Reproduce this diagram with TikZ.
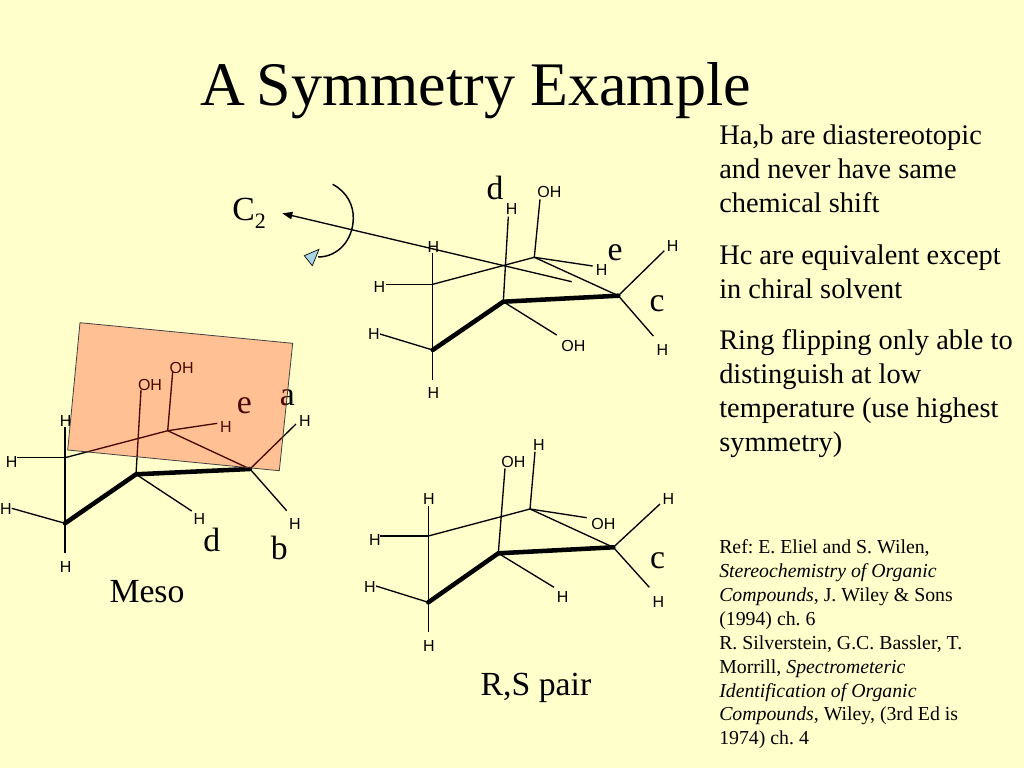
\documentclass[tikz,border=0pt]{standalone}
\usepackage{fontspec}
\setmainfont{Liberation Serif}
\newfontfamily\chemfont{Liberation Sans}
\usetikzlibrary{arrows.meta}
\definecolor{slidebg}{HTML}{FFFFCC}
\definecolor{planefill}{HTML}{FF1E00}
\definecolor{rotfill}{HTML}{A9D6E5}
\tikzset{
  atomlabel/.style={font=\chemfont\fontsize{12}{13}\selectfont,inner sep=0pt,text=black},
  bigletter/.style={font=\fontsize{25.3}{28}\selectfont,inner sep=0pt},
  bodyline/.style={font=\fontsize{21.3}{24}\selectfont\frenchspacing,anchor=base west,inner sep=0pt},
  refline/.style={font=\fontsize{14.85}{17}\selectfont\frenchspacing,anchor=base west,inner sep=0pt},
  bond/.style={line width=1pt,black},
  wedge/.style={line width=3.4pt,black,line cap=round},
}
\begin{document}
\begin{tikzpicture}[x=0.75pt,y=-0.75pt]
\useasboundingbox (0,0) rectangle (1024,768);
\fill[slidebg] (0,0) rectangle (1024,768);
\node[font=\fontsize{46.5}{50}\selectfont,inner sep=0pt,anchor=base] (title) at (475.5,105) {A\kern-0.06em\ Symmetry Example};

% Top molecule
\coordinate (ta) at (432.7,350);
\coordinate (tb) at (503.3,301.7);
\coordinate (tc) at (618.3,295.7);
\coordinate (td) at (534.3,257.3);
\coordinate (tf) at (432.7,284.3);
\coordinate (t1) at (508.3,216.7);
\coordinate (t2) at (540,199.3);
\coordinate (t3) at (592.7,266);
\coordinate (t4) at (664.3,250.7);
\coordinate (t5) at (653.3,336);
\coordinate (t6) at (556.7,335);
\coordinate (t7) at (380,334);
\coordinate (t8) at (432.7,380);
\coordinate (t9) at (432.7,253);
\coordinate (t10) at (385.7,284.3);
\draw[bond] (ta) -- (t9);
\draw[bond] (ta) -- (t8);
\draw[bond] (ta) -- (t7);
\draw[bond] (tf) -- (t10);
\draw[bond] (tf) -- (td);
\draw[bond] (td) -- (tc);
\draw[bond] (td) -- (t2);
\draw[bond] (td) -- (t3);
\draw[bond] (tb) -- (t1);
\draw[bond] (tb) -- (t6);
\draw[bond] (tc) -- (t4);
\draw[bond] (tc) -- (t5);
\draw[wedge] (ta) -- (tb) -- (tc);
\node[atomlabel] (th1) at (433.3,247.3) {H};
\node[atomlabel] (th2) at (379.3,287.3) {H};
\node[atomlabel] (th3) at (374,334) {H};
\node[atomlabel] (th4) at (433.3,393.3) {H};
\node[atomlabel] (to1) at (573.3,345.5) {OH};
\node[atomlabel] (th5) at (662.3,350) {H};
\node[atomlabel] (th6) at (672.7,246) {H};
\node[atomlabel] (th7) at (601.7,270) {H};
\node[atomlabel] (to2) at (549.3,192) {OH};
\node[atomlabel] (th8) at (511.7,209) {H};
\node[bigletter] (ld1) at (495,188) {d};
\node[bigletter] (le1) at (615,253) {e};
\node[bigletter] (lc1) at (657,304) {c};

% Rotation axis
\coordinate (axs) at (571.7,281.7);
\coordinate (axe) at (282.3,213.3);
\draw[bond,-{Triangle[length=7.5pt,width=5.5pt]}] (axs) -- (axe);
\coordinate (ar1) at (332.7,184.3);
\coordinate (ar2) at (353.3,218.3);
\coordinate (ar3) at (318,257);
\draw[line width=1.1pt] (ar1) .. controls (347,192) and (353.5,205) .. (ar2)
  .. controls (353,240) and (338,257) .. (ar3);
\coordinate (ah1) at (304.3,255.7);
\coordinate (ah2) at (319,249.3);
\coordinate (ah3) at (312.3,265.7);
\draw[fill=rotfill,line width=0.5pt] (ah1) -- (ah2) -- (ah3) -- cycle;
\node[font=\fontsize{25.3}{28}\selectfont,inner sep=0pt,anchor=base west] (c2) at (232,220) {C\raisebox{-0.25em}{\fontsize{16.5}{18}\selectfont 2}};

% Meso molecule
\coordinate (ma) at (65,523.3);
\coordinate (mb) at (136,474.3);
\coordinate (mc) at (250,469);
\coordinate (md) at (167.7,430.7);
\coordinate (mf) at (65,457.7);
\coordinate (m1) at (141,390);
\coordinate (m2) at (172.7,371.7);
\coordinate (m3) at (217.3,423.3);
\coordinate (m4) at (296,424);
\coordinate (m5) at (286.7,510.7);
\coordinate (m6) at (191.7,511);
\coordinate (m7) at (11.7,508.3);
\coordinate (m8) at (65,553.3);
\coordinate (m9) at (65,426.7);
\coordinate (m10) at (17.3,457.7);
\draw[bond] (ma) -- (m9);
\draw[bond] (ma) -- (m8);
\draw[bond] (ma) -- (m7);
\draw[bond] (mf) -- (m10);
\draw[bond] (mf) -- (md);
\draw[bond] (md) -- (mc);
\draw[bond] (md) -- (m2);
\draw[bond] (md) -- (m3);
\draw[bond] (mb) -- (m1);
\draw[bond] (mb) -- (m6);
\draw[bond] (mc) -- (m4);
\draw[bond] (mc) -- (m5);
\draw[wedge] (ma) -- (mb) -- (mc);
\node[atomlabel] (mo1) at (150,384.5) {OH};
\node[atomlabel] (mo2) at (181.7,367.5) {OH};
\node[atomlabel] (mh1) at (226,427) {H};
\node[atomlabel] (mh2) at (305,421) {H};
\node[atomlabel] (mh3) at (295,523.5) {H};
\node[atomlabel] (mh4) at (199.3,519) {H};
\node[atomlabel] (mh5) at (65.7,567.3) {H};
\node[atomlabel] (mh6) at (6,509.3) {H};
\node[atomlabel] (mh7) at (11.7,462.3) {H};
\node[atomlabel] (mh8) at (65.7,421) {H};
\node[bigletter] (ld2) at (211.7,540.3) {d};
\node[bigletter] (lb2) at (279.3,548.3) {b};
\node[bigletter] (le2) at (244.3,406) {e};
\node[bigletter] (la2) at (287.3,398) {a};
\node[bigletter] (meso) at (147,592) {Meso};
% Mirror plane
\coordinate (p1) at (80,322.7);
\coordinate (p2) at (292.7,343.3);
\coordinate (p3) at (279.3,470.7);
\coordinate (p4) at (67.7,450);
\fill[planefill,fill opacity=0.28] (p1) -- (p2) -- (p3) -- (p4) -- cycle;
\draw[line width=0.6pt,black!75] (p1) -- (p2) -- (p3) -- (p4) -- cycle;

% R,S pair
\coordinate (ra) at (428.3,602.3);
\coordinate (rb) at (498.3,553.3);
\coordinate (rc) at (613.3,547.3);
\coordinate (rd) at (530,509);
\coordinate (rf) at (428.3,536);
\coordinate (r1) at (505,468.3);
\coordinate (r2) at (535,451.7);
\coordinate (r3) at (586.7,517.7);
\coordinate (r4) at (660,504);
\coordinate (r5) at (649.3,587.3);
\coordinate (r6) at (554,587.3);
\coordinate (r7) at (376,586);
\coordinate (r8) at (428.3,631.7);
\coordinate (r9) at (428.3,506);
\coordinate (r10) at (380,536);
\draw[bond] (ra) -- (r9);
\draw[bond] (ra) -- (r8);
\draw[bond] (ra) -- (r7);
\draw[bond] (rf) -- (r10);
\draw[bond] (rf) -- (rd);
\draw[bond] (rd) -- (rc);
\draw[bond] (rd) -- (r2);
\draw[bond] (rd) -- (r3);
\draw[bond] (rb) -- (r1);
\draw[bond] (rb) -- (r6);
\draw[bond] (rc) -- (r4);
\draw[bond] (rc) -- (r5);
\draw[wedge] (ra) -- (rb) -- (rc);
\node[atomlabel] (ro1) at (513.3,462.3) {OH};
\node[atomlabel] (rh1) at (539,445) {H};
\node[atomlabel] (ro2) at (603.3,523.8) {OH};
\node[atomlabel] (rh2) at (668.3,499.3) {H};
\node[atomlabel] (rh3) at (658.3,602) {H};
\node[atomlabel] (rh4) at (562.7,597) {H};
\node[atomlabel] (rh5) at (429,646) {H};
\node[atomlabel] (rh6) at (370,587.3) {H};
\node[atomlabel] (rh7) at (375,540) {H};
\node[atomlabel] (rh8) at (429,499.3) {H};
\node[bigletter] (lc3) at (657.7,561) {c};
\node[bigletter] (rspair) at (536,688) {R,S pair};

% Right text
\node[bodyline] (b1) at (719,144) {Ha,b are diastereotopic};
\node[bodyline] (b2) at (719,178) {and never have same};
\node[bodyline] (b3) at (719,212) {chemical shift};
\node[bodyline] (b4) at (719,264) {Hc are equivalent except};
\node[bodyline] (b5) at (719,298) {in chiral solvent};
\node[bodyline] (b6) at (719,349) {Ring flipping only able to};
\node[bodyline] (b7) at (719,383) {distinguish at low};
\node[bodyline] (b8) at (719,417) {temperature (use highest};
\node[bodyline] (b9) at (719,451.5) {symmetry)};
\node[refline] (r01) at (719,553) {Ref: E. Eliel and S. Wilen,};
\node[refline] (r02) at (719,577.5) {\itshape Stereochemistry of Organic};
\node[refline] (r03) at (719,601) {\textit{Compounds}, J. Wiley \& Sons};
\node[refline] (r04) at (719,625) {(1994) ch. 6};
\node[refline] (r05) at (719,649) {R. Silverstein, G.C. Bassler, T.};
\node[refline] (r06) at (719,673) {Morrill, \textit{Spectrometeric}};
\node[refline] (r07) at (719,697) {\itshape Identification of Organic};
\node[refline] (r08) at (719,720.5) {\textit{Compounds}, Wiley, (3rd Ed is};
\node[refline] (r09) at (719,744) {1974) ch. 4};
\end{tikzpicture}
\end{document}
